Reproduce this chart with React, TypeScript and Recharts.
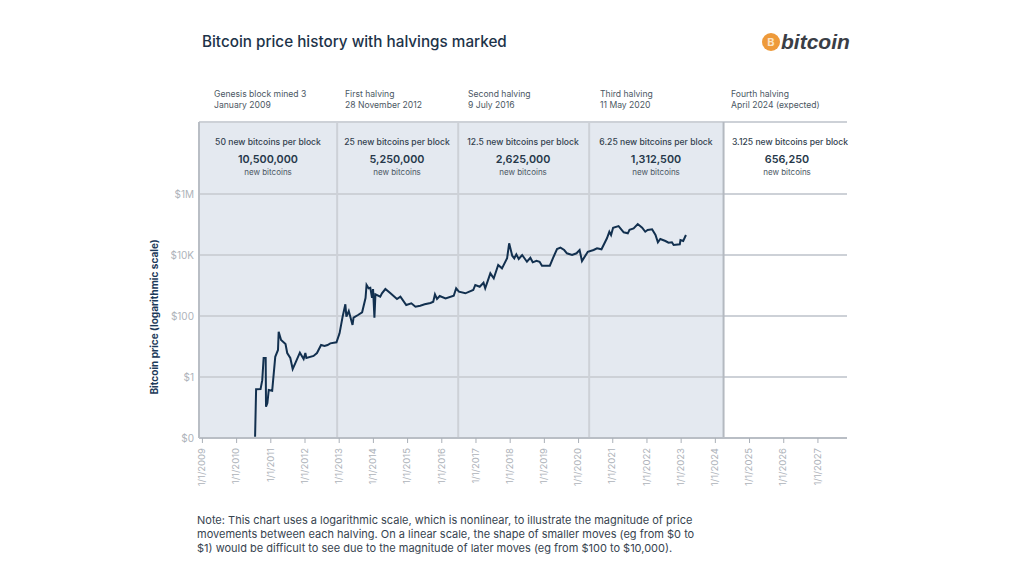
import React from 'react';
import { LineChart, Line, XAxis, YAxis, ReferenceArea, ReferenceLine } from 'recharts';

const years = [
  2010.54, 2010.57, 2010.7, 2010.75, 2010.79, 2010.85, 2010.86, 2010.9, 2010.94, 2011.04, 2011.13, 2011.21, 2011.23,
  2011.3, 2011.43, 2011.48, 2011.57, 2011.64, 2011.72, 2011.85, 2011.96, 2012.01, 2012.04, 2012.25, 2012.35, 2012.47,
  2012.57, 2012.66, 2012.74, 2012.92, 2013.01, 2013.1, 2013.18, 2013.21, 2013.28, 2013.39, 2013.42, 2013.55, 2013.67,
  2013.77, 2013.8, 2013.86, 2013.91, 2013.96, 2013.99, 2014.03, 2014.06, 2014.2, 2014.25, 2014.35, 2014.5, 2014.69,
  2014.79, 2014.96, 2015.11, 2015.23, 2015.37, 2015.5, 2015.67, 2015.75, 2015.8, 2015.86, 2015.94, 2016.11, 2016.35,
  2016.42, 2016.5, 2016.69, 2016.92, 2016.98, 2017.11, 2017.22, 2017.27, 2017.42, 2017.52, 2017.65, 2017.76, 2017.91,
  2017.97, 2018.06, 2018.12, 2018.18, 2018.25, 2018.35, 2018.49, 2018.59, 2018.66, 2018.77, 2018.86, 2018.93, 2019.16,
  2019.27, 2019.37, 2019.47, 2019.58, 2019.66, 2019.81, 2019.94, 2020.03, 2020.1, 2020.27, 2020.44, 2020.54, 2020.67,
  2020.83, 2020.9, 2020.95, 2021.01, 2021.17, 2021.32, 2021.44, 2021.49, 2021.61, 2021.73, 2021.86, 2021.95, 2022.02,
  2022.15, 2022.25, 2022.32, 2022.39, 2022.54, 2022.63, 2022.73, 2022.78, 2022.96, 2022.98, 2023.06, 2023.14,
];

const prices = [
  0.011, 0.395, 0.4, 0.79, 4.2, 4.2, 0.106, 0.14, 0.375, 0.355, 4.6, 7.7, 30.5,
  16.3, 12, 6.1, 4.2, 1.83, 2.9, 6.3, 3.9, 6.1, 4.2, 4.9, 6.1, 11.2,
  10.4, 11.2, 12.7, 13.7, 27, 95, 242, 95, 146, 51, 88, 108, 132,
  389, 1040, 810, 847, 398, 767, 88, 514, 430, 555, 767, 555, 361,
  430, 230, 261, 202, 218, 242, 267, 294, 514, 361, 453, 380, 463,
  810, 627, 555, 711, 1040, 914, 1236, 810, 2512, 1722, 4700, 3660, 7800,
  24200, 9500, 7800, 10500, 7400, 10000, 6030, 8150, 5770, 6500, 6030, 4460, 4460,
  8790, 15700, 17400, 14600, 11400, 10000, 11400, 14600, 6350, 12800, 14600, 16600, 15400,
  35300, 58000, 45300, 78500, 89000, 55500, 51400, 67600, 75000, 104000, 78500, 58000, 66100,
  69700, 45300, 26100, 33500, 28800, 25300, 26100, 21300, 22400, 31000, 28800, 45300,
];

const yearTicks = [2009, 2010, 2011, 2012, 2013, 2014, 2015, 2016, 2017, 2018, 2019, 2020, 2021, 2022, 2023, 2024, 2025, 2026, 2027];
const priceTicks = [0.01, 1, 100, 10000, 1000000];
const priceLabels = ['$0', '$1', '$100', '$10K', '$1M'];
const halvingYears = [2012.94, 2016.48, 2020.31, 2024.24];

const eventNames = ['Genesis block mined 3', 'First halving', 'Second halving', 'Third halving', 'Fourth halving'];
const eventDates = ['January 2009', '28 November 2012', '9 July 2016', '11 May 2020', 'April 2024 (expected)'];
const rewards = [
  '50 new bitcoins per block',
  '25 new bitcoins per block',
  '12.5 new bitcoins per block',
  '6.25 new bitcoins per block',
  '3.125 new bitcoins per block',
];
const newCoins = ['10,500,000', '5,250,000', '2,625,000', '1,312,500', '656,250'];
const eventX = [214, 345, 468, 600, 731];
const cellCenters = [268, 397, 523, 656, 787];
const rewardCenters = [268, 397, 523, 656, 790];

const noteLines = [
  'Note: This chart uses a logarithmic scale, which is nonlinear, to illustrate the magnitude of price',
  'movements between each halving. On a linear scale, the shape of smaller moves (eg from $0 to',
  '$1) would be difficult to see due to the magnitude of later moves (eg from $100 to $10,000).',
];

const chartData = years.map((year, i) => ({ year, price: prices[i] }));

const X_MIN = 2008.9;
const X_MAX = 2027.85;
const Y_MIN = 0.01;
const Y_MAX = 230000000;

const FONT = 'Inter, "Open Sans", sans-serif';
const GRID = '#cdd1d7';

const place = (left: number, top: number, extra: React.CSSProperties = {}): React.CSSProperties => ({
  position: 'absolute',
  left,
  top,
  whiteSpace: 'nowrap',
  ...extra,
});

const centered = (x: number, top: number, extra: React.CSSProperties = {}): React.CSSProperties =>
  place(x - 80, top, { width: 160, textAlign: 'center', ...extra });

const App = () => (
  <div style={{ position: 'relative', width: 1024, height: 576, margin: -8, background: '#fff', fontFamily: FONT, overflow: 'hidden' }}>
    <LineChart
      width={1024}
      height={576}
      data={chartData}
      margin={{ top: 122, right: 177, bottom: 78, left: 139 }}
      style={{ position: 'absolute', left: 0, top: 0 }}
    >
      <ReferenceArea x1={X_MIN} x2={halvingYears[3]} y1={Y_MIN} y2={Y_MAX} fill="#e4e9f0" fillOpacity={1} stroke="none" />
      <XAxis
        dataKey="year"
        type="number"
        domain={[X_MIN, X_MAX]}
        ticks={yearTicks}
        interval={0}
        height={60}
        tickFormatter={(y: number) => `1/1/${y}`}
        angle={-90}
        textAnchor="end"
        dy={3}
        dx={-4}
        tickSize={5}
        tick={{ fontSize: 9.5, fill: '#aeb3ba' }}
        tickLine={{ stroke: '#aab0b8', strokeWidth: 1 }}
        axisLine={{ stroke: '#b9bec5', strokeWidth: 2 }}
      />
      <YAxis
        dataKey="price"
        type="number"
        scale="log"
        domain={[Y_MIN, Y_MAX]}
        allowDataOverflow
        ticks={priceTicks}
        interval={0}
        width={60}
        tickFormatter={(v: number) => priceLabels[priceTicks.indexOf(v)]}
        tickLine={false}
        tickSize={0}
        tickMargin={5}
        tick={{ fontSize: 10, fill: '#aeb3ba' }}
        axisLine={{ stroke: '#b9bec5', strokeWidth: 2 }}
        label={{
          value: 'Bitcoin price (logarithmic scale)',
          angle: -90,
          position: 'insideLeft',
          dx: 10,
          dy: 37,
          style: { fontSize: 10, fontWeight: 700, fill: '#1c3a5a', fontFamily: FONT, textAnchor: 'middle' },
        }}
      />
      {priceTicks.slice(1).map((tick) => (
        <ReferenceLine key={tick} y={tick} stroke={GRID} strokeWidth={2} />
      ))}
      <ReferenceLine y={Y_MAX} stroke={GRID} strokeWidth={2} />
      {halvingYears.map((year) => (
        <ReferenceLine key={year} x={year} stroke={year === 2024.24 ? '#b4b9c0' : GRID} strokeWidth={2} />
      ))}
      <Line type="linear" dataKey="price" stroke="#12304f" strokeWidth={2} dot={false} isAnimationActive={false} />
    </LineChart>

    <div style={place(202, 32, { fontSize: 15.25, fontWeight: 500, color: '#1d3349' })}>Bitcoin price history with halvings marked</div>

    <div style={place(762, 33, { width: 18, height: 18, borderRadius: 9, background: '#ee9a3a', color: '#fbe3c4', fontSize: 11, fontWeight: 700, lineHeight: '18px', textAlign: 'center' })}>B</div>
    <div style={place(781, 28, { fontFamily: '"Liberation Sans", sans-serif', fontSize: 21, fontWeight: 700, fontStyle: 'italic', color: '#3a3e46', lineHeight: '28px' })}>bitcoin</div>

    {eventNames.map((name, i) => (
      <div key={name} style={place(eventX[i], 89, { fontSize: 8.6, lineHeight: '11px', color: '#4b5763' })}>
        <div>{name}</div>
        <div>{eventDates[i]}</div>
      </div>
    ))}

    {rewards.map((reward, i) => (
      <React.Fragment key={reward}>
        <div style={centered(rewardCenters[i], 136, { fontSize: 8.6, fontWeight: 500, lineHeight: '12px', color: '#33424f' })}>{reward}</div>
        <div style={centered(cellCenters[i], 153, { fontSize: 10.8, fontWeight: 600, lineHeight: '14px', color: '#26384a' })}>{newCoins[i]}</div>
        <div style={centered(cellCenters[i], 166, { fontSize: 8, lineHeight: '12px', color: '#4b5763' })}>new bitcoins</div>
      </React.Fragment>
    ))}

    {noteLines.map((line, i) => (
      <div key={line} style={place(197, 513 + i * 14, { fontSize: 11, lineHeight: '14px', color: '#37444f' })}>{line}</div>
    ))}
  </div>
);

export default App;
